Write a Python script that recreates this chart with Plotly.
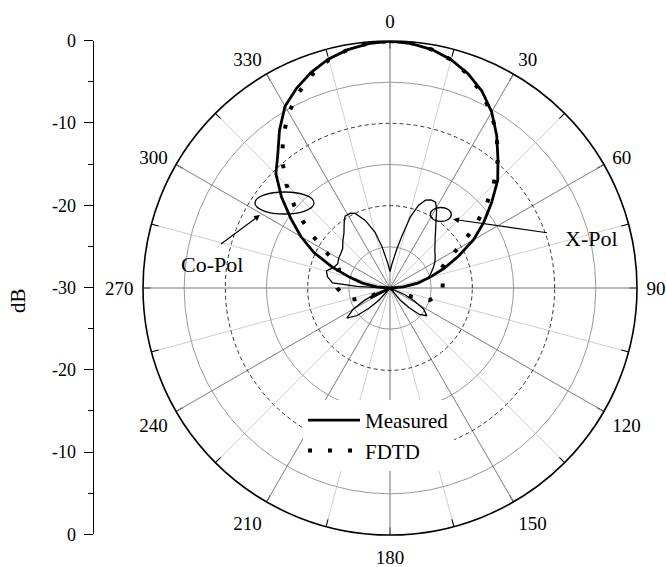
import plotly.graph_objects as go

# ---------------- data (angles in degrees, clockwise from top; values in dB) ----------------
copol_meas_theta = [0, 5, 10, 15, 20, 25, 30, 35, 40, 45, 50, 55, 60, 65, 70, 75, 80, 85, 90,
                    180, 235, 243, 250,
                    270, 275, 280, 285, 290, 295, 300, 305, 310, 315, 320, 325, 330, 335, 340, 345,
                    350, 355, 360]
copol_meas_db = [0.0, -0.2, -0.6, -1.3, -2.3, -3.6, -5.3, -7.4, -9.6, -11.5, -13.9, -16.1, -18.3,
                 -20.8, -23.0, -25.0, -26.6, -28.4, -30.0,
                 -30.0, -30.0, -27.3, -30.0,
                 -30.0, -28.4, -26.6, -24.9, -22.5, -19.8, -17.5, -15.3, -12.8, -10.4, -8.8, -6.6,
                 -4.5, -3.2, -2.1, -1.2, -0.6, -0.2, 0.0]

fdtd_theta = [0, 5, 10, 15, 20, 25, 30, 35, 40, 45, 50, 55, 60, 65, 70, 80, 90, 100, 107, 112, 118,
              242, 247, 253, 260, 270, 280, 290, 295, 300, 305, 310, 315, 320, 325, 330, 335, 340,
              345, 350, 355, 360]
fdtd_db = [0.0, -0.15, -0.6, -1.3, -2.4, -3.8, -5.4, -7.4, -9.6, -12.2, -14.9, -17.8, -20.6, -22.6,
           -23.4, -23.5, -23.6, -24.2, -25.0, -27.2, -30.0,
           -30.0, -27.3, -25.1, -24.3, -23.6, -23.5, -23.4, -22.7, -20.8, -18.0, -15.0, -12.2, -9.6,
           -7.4, -5.4, -3.8, -2.4, -1.3, -0.6, -0.15, 0.0]

xpol_theta = [0, 5, 10, 13, 16, 19, 22, 25, 28, 31, 34, 38, 42, 46, 50, 55, 60, 65, 70, 75, 80, 85, 90,
              110, 114, 118, 122, 127, 132, 136, 140, 144,
              218, 222, 226, 230, 235, 240, 244, 248, 252,
              270, 271, 273, 275, 280, 285, 290, 295, 300, 305, 310, 315, 320, 325, 328, 332, 335,
              340, 345, 349, 355, 360]
xpol_db = [-28.0, -27.0, -25.2, -23.5, -21.0, -19.4, -18.5, -18.2, -18.2, -19.0, -20.0, -21.0, -21.8,
           -22.4, -22.9, -23.3, -23.7, -24.2, -24.7, -25.1, -26.3, -28.0, -30.0,
           -30.0, -28.0, -26.7, -25.2, -24.4, -25.2, -26.7, -28.0, -30.0,
           -30.0, -28.0, -26.5, -24.8, -23.6, -24.8, -26.5, -28.0, -30.0,
           -30.0, -29.0, -26.0, -23.0, -22.3, -22.0, -22.7, -23.0, -22.8, -22.7, -22.5, -21.9,
           -21.3, -20.3, -19.7, -19.7, -20.0, -21.3, -23.0, -24.9, -27.0, -28.0]

angle_ticks = [0, 30, 60, 90, 120, 150, 180, 210, 240, 270, 300, 330]
angle_ticktext = ["0", "30", "60", "90", "120", "150", "180", "210", "240", "270", "300", "330"]
minor_spokes = list(range(0, 360, 15))
db_axis_vals = [-30, -20, -10, 0, 10, 20, 30]
db_axis_text = ["0", "-10", "-20", "-30", "-20", "-10", "0"]

# ---------------- figure ----------------
W, H = 666, 567
FONT = "Liberation Serif, Times New Roman, serif"

def px(x):
    return x / W

def py(y):
    return 1 - y / H

fig = go.Figure()

# invisible trace so that the background (light-grid) polar subplot is drawn
fig.add_trace(go.Scatterpolar(r=[-30], theta=[0], mode="markers", marker=dict(size=1, opacity=0),
                              showlegend=False, subplot="polar", hoverinfo="skip"))
fig.add_trace(go.Scatterpolar(r=xpol_db, theta=xpol_theta, mode="lines",
                              line=dict(color="black", width=1.3), showlegend=False,
                              subplot="polar2", hoverinfo="skip"))
fig.add_trace(go.Scatterpolar(r=copol_meas_db, theta=copol_meas_theta, mode="lines", name="Measured",
                              line=dict(color="black", width=2.8), subplot="polar2"))
fig.add_trace(go.Scatterpolar(r=fdtd_db, theta=fdtd_theta, mode="lines", name="FDTD",
                              line=dict(color="black", width=4, dash="4px,16px"), subplot="polar2"))
# anchor trace for the left dB axis
fig.add_trace(go.Scatter(x=[0, 0], y=[-30, 30], mode="lines", line=dict(width=0),
                         showlegend=False, hoverinfo="skip", xaxis="x", yaxis="y"))

dom_x = [px(143), px(637)]
dom_y = [py(535), py(41)]

fig.update_layout(
    width=W, height=H,
    margin=dict(l=0, r=0, t=0, b=0, autoexpand=False),
    paper_bgcolor="white",
    plot_bgcolor="white",
    font=dict(family=FONT, color="black", size=19),
    polar=dict(
        domain=dict(x=dom_x, y=dom_y),
        bgcolor="white",
        angularaxis=dict(rotation=90, direction="clockwise", tickmode="array",
                         tickvals=minor_spokes, showticklabels=False,
                         ticks="inside", ticklen=7, tickcolor="black",
                         showgrid=True, gridcolor="#cfcfcf", gridwidth=1,
                         showline=False),
        radialaxis=dict(range=[-30, 0], tickmode="array", tickvals=[-25, -15, -5],
                        showticklabels=False, ticks="", showline=False,
                        showgrid=True, gridcolor="#9a9a9a", gridwidth=0.8),
    ),
    polar2=dict(
        domain=dict(x=dom_x, y=dom_y),
        bgcolor="rgba(0,0,0,0)",
        angularaxis=dict(rotation=90, direction="clockwise", tickmode="array",
                         tickvals=angle_ticks, ticktext=angle_ticktext,
                         tickfont=dict(family=FONT, size=19, color="black"),
                         ticks="outside", ticklen=5, tickcolor="rgba(0,0,0,0)",
                         showgrid=True, gridcolor="#8a8a8a", gridwidth=1,
                         showline=True, linecolor="black", linewidth=1.6),
        radialaxis=dict(range=[-30, 0], tickmode="array", tickvals=[-20, -10],
                        showticklabels=False, ticks="", showline=False,
                        showgrid=True, gridcolor="#333333", gridwidth=1, griddash="4px,3px"),
    ),
    xaxis=dict(domain=[0, px(92.7)], visible=False, range=[-1, 1], automargin=False),
    yaxis=dict(domain=[py(534.3), py(40.7)], anchor="free", position=px(92.7), side="left",
               range=[-30, 30], tickmode="array", tickvals=db_axis_vals, ticktext=db_axis_text,
               ticks="outside", ticklen=9, tickwidth=1.2, tickcolor="black",
               minor=dict(dtick=5, tick0=0, ticks="outside", ticklen=5, tickcolor="black", tickwidth=1.2),
               showline=True, linecolor="black", linewidth=1.3, automargin=False,
               showgrid=False, zeroline=False, ticklabelstandoff=4,
               tickfont=dict(family=FONT, size=18, color="black")),
    legend=dict(x=px(303), y=py(400), xanchor="left", yanchor="top",
                bgcolor="white", borderwidth=0, itemwidth=52,
                font=dict(family=FONT, size=21, color="black"),
                tracegroupgap=0),
    showlegend=True,
)

line_style = dict(color="black", width=1.3)
fig.add_shape(type="circle", xref="paper", yref="paper",
              x0=px(255), x1=px(314), y0=py(214), y1=py(192), line=line_style)
fig.add_shape(type="circle", xref="paper", yref="paper",
              x0=px(430.3), x1=px(451.3), y0=py(221.5), y1=py(207.5), line=line_style)

fig.add_annotation(x=px(211.7), y=py(264), xref="paper", yref="paper", text="Co-Pol",
                   xanchor="center", yanchor="middle",
                   showarrow=False, font=dict(family=FONT, size=22, color="black"))
fig.add_annotation(x=px(260), y=py(215), xref="paper", yref="paper", text=" ",
                   showarrow=True, ax=-43, ay=32, arrowhead=2, arrowsize=1, arrowwidth=1.2,
                   arrowcolor="black", standoff=0)
fig.add_annotation(x=px(591), y=py(238), xref="paper", yref="paper", text="X-Pol",
                   xanchor="center", yanchor="middle",
                   showarrow=False, font=dict(family=FONT, size=22, color="black"))
fig.add_annotation(x=px(453), y=py(219.3), xref="paper", yref="paper", text=" ",
                   showarrow=True, ax=98, ay=14, arrowhead=2, arrowsize=1, arrowwidth=1.2,
                   arrowcolor="black", standoff=0)
fig.add_annotation(x=px(17.5), y=py(300.5), xref="paper", yref="paper", text="dB",
                   xanchor="center", yanchor="middle",
                   textangle=-90, showarrow=False, font=dict(family=FONT, size=21, color="black"))

fig.write_html("out.html", config={"displayModeBar": False},
               post_script="document.body.style.margin='0';document.body.style.overflow='hidden';")
